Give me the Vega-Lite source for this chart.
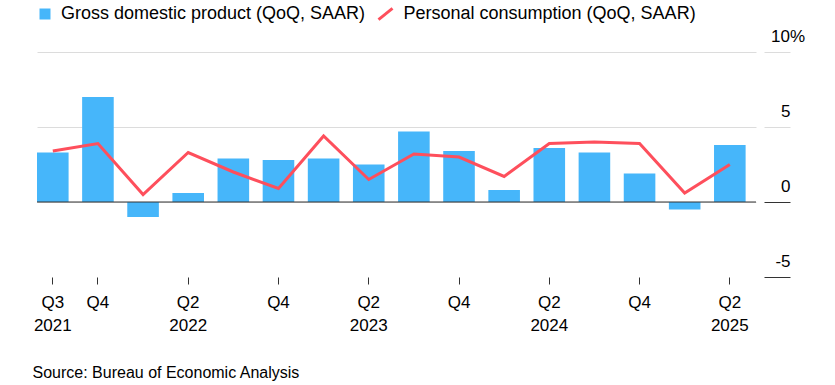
{
  "$schema": "https://vega.github.io/schema/vega-lite/v6.json",
  "width": 719,
  "height": 225,
  "autosize": {"type": "none"},
  "padding": {"left": 37, "top": 52, "right": 79, "bottom": 108},
  "background": "white",
  "config": {
    "font": "Liberation Sans",
    "view": {"stroke": null},
    "legend": {"padding": 0, "labelFont": "Liberation Sans", "labelColor": "#000", "labelFontSize": 18, "labelLimit": 0}
  },
  "title": {
    "text": "Source: Bureau of Economic Analysis",
    "orient": "bottom",
    "anchor": "start",
    "frame": "group",
    "fontSize": 16,
    "fontWeight": "normal",
    "color": "#000",
    "baseline": "alphabetic",
    "dx": -4.5,
    "offset": 45
  },
  "data": {
    "values": [
      {"q": "Q3 2021", "gdp": 3.3, "pce": 3.4},
      {"q": "Q4 2021", "gdp": 7.0, "pce": 3.9},
      {"q": "Q1 2022", "gdp": -1.0, "pce": 0.5},
      {"q": "Q2 2022", "gdp": 0.6, "pce": 3.3},
      {"q": "Q3 2022", "gdp": 2.9, "pce": 2.0},
      {"q": "Q4 2022", "gdp": 2.8, "pce": 0.9},
      {"q": "Q1 2023", "gdp": 2.9, "pce": 4.4},
      {"q": "Q2 2023", "gdp": 2.5, "pce": 1.5},
      {"q": "Q3 2023", "gdp": 4.7, "pce": 3.2},
      {"q": "Q4 2023", "gdp": 3.4, "pce": 3.0},
      {"q": "Q1 2024", "gdp": 0.8, "pce": 1.7},
      {"q": "Q2 2024", "gdp": 3.6, "pce": 3.9},
      {"q": "Q3 2024", "gdp": 3.3, "pce": 4.0},
      {"q": "Q4 2024", "gdp": 1.9, "pce": 3.9},
      {"q": "Q1 2025", "gdp": -0.5, "pce": 0.6},
      {"q": "Q2 2025", "gdp": 3.8, "pce": 2.5}
    ]
  },
  "layer": [
    {
      "mark": {"type": "bar"},
      "encoding": {
        "x": {
          "field": "q",
          "type": "nominal",
          "sort": null,
          "scale": {"paddingInner": 0.3, "paddingOuter": 0.115, "align": 0},
          "axis": {
            "title": null,
            "domain": false,
            "grid": false,
            "ticks": true,
            "tickSize": 7,
            "tickColor": "#333",
            "tickWidth": 1,
            "labelAngle": 0,
            "labelFontSize": 17,
            "labelColor": "#000",
            "labelPadding": 10,
            "labelLineHeight": 23,
            "labelBaseline": "top",
            "values": ["Q3 2021", "Q4 2021", "Q2 2022", "Q4 2022", "Q2 2023", "Q4 2023", "Q2 2024", "Q4 2024", "Q2 2025"],
            "labelExpr": "slice(datum.value, 0, 2) == 'Q4' ? 'Q4' : split(datum.value, ' ')"
          }
        },
        "y": {
          "field": "gdp",
          "type": "quantitative",
          "scale": {"domain": [-5, 10], "nice": false, "zero": false},
          "axis": {
            "title": null,
            "orient": "right",
            "offset": 8,
            "domain": false,
            "values": [-5, 0, 5, 10],
            "tickSize": 26,
            "tickWidth": 1,
            "tickColor": {"condition": {"test": "datum.value <= 0", "value": "#333"}, "value": "#dcdcdc"},
            "grid": true,
            "gridWidth": 1,
            "gridColor": {"condition": {"test": "datum.value <= -5", "value": "transparent"}, "value": "#dcdcdc"},
            "labelFontSize": 17,
            "labelColor": "#000",
            "labelBaseline": "alphabetic",
            "labelOffset": -11,
            "labelAlign": {"condition": {"test": "datum.value === 10", "value": "left"}, "value": "right"},
            "labelPadding": {"condition": {"test": "datum.value === 10", "value": -19.5}, "value": 0},
            "labelExpr": "datum.value === 10 ? '10%' : '' + datum.value"
          }
        },
        "color": {
          "datum": "Gross domestic product (QoQ, SAAR)",
          "scale": {"range": ["#46b6fa"]},
          "legend": {
            "title": null,
            "orient": "none",
            "legendX": -1,
            "legendY": -47,
            "symbolType": "square",
            "symbolSize": 121,
            "symbolStrokeWidth": 0,
            "labelOffset": 7
          }
        }
      }
    },
    {
      "mark": {"type": "line", "strokeWidth": 3},
      "encoding": {
        "x": {"field": "q", "type": "nominal", "sort": null},
        "y": {"field": "pce", "type": "quantitative"},
        "stroke": {
          "datum": "Personal consumption (QoQ, SAAR)",
          "scale": {"range": ["#fe4f5c"]},
          "legend": {
            "title": null,
            "orient": "none",
            "legendX": 339.5,
            "legendY": -47,
            "symbolType": "M-1,0.8L1,-0.8",
            "symbolSize": 196,
            "symbolStrokeWidth": 3,
            "labelOffset": 9
          }
        }
      }
    },
    {
      "data": {"values": [{"zero": 0}]},
      "mark": {"type": "rule", "color": "#333", "strokeWidth": 1},
      "encoding": {
        "y": {"field": "zero", "type": "quantitative"}
      }
    }
  ]
}
